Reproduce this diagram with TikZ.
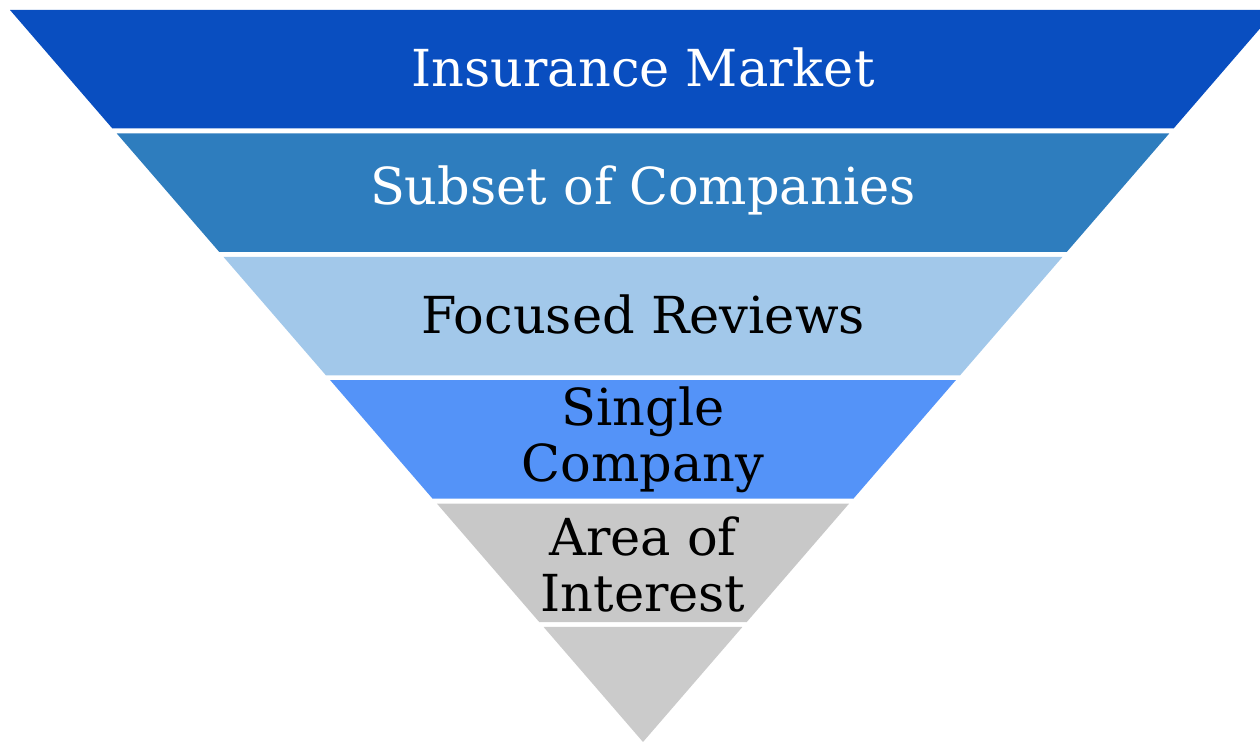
\documentclass[tikz,border=0pt]{standalone}
\usepackage{fontspec}
\setmainfont{DejaVu Serif}
\definecolor{marketblue}{RGB}{9,78,192}
\definecolor{subsetblue}{RGB}{46,125,190}
\definecolor{focuslight}{RGB}{162,200,234}
\definecolor{singleblue}{RGB}{84,147,248}
\definecolor{areagray}{RGB}{200,200,200}
\definecolor{tipgray}{RGB}{203,203,203}
\tikzstyle{every node}=[font=\fontsize{25.5}{28}\selectfont]
\tikzstyle{level}=[align=center,inner sep=0pt]

\begin{document}
\begin{tikzpicture}[x=0.5pt,y=-0.5pt]
        \clip (0,0) rectangle (1260,742);
        \fill[marketblue] (10,10)--(1276,10)--(1173.6,128.5)--(112.4,128.5)--cycle;
        \fill[subsetblue] (116.7,133.4)--(1169.3,133.4)--(1066.8,251.9)--(219.2,251.9)--cycle;
        \fill[focuslight] (223.4,256.8)--(1062.6,256.8)--(960.1,375.3)--(325.9,375.3)--cycle;
        \fill[singleblue] (330.2,380.2)--(955.8,380.2)--(853.4,498.7)--(432.6,498.7)--cycle;
        \fill[areagray] (436.9,503.6)--(849.1,503.6)--(746.7,622.1)--(539.3,622.1)--cycle;
        \fill[tipgray] (543.6,627)--(742.4,627)--(643,742)--cycle;
        \node[level,white] (market) at (643,67) {Insurance Market};
        \node[level,white] (subset) at (643,190) {Subset of Companies};
        \node[level] (focused) at (643,314) {Focused Reviews};
        \node[level] (single) at (643,440) {Single\\Company};
        \node[level] (area) at (643,564) {Area of\\Interest};
      \end{tikzpicture}
\end{document}
